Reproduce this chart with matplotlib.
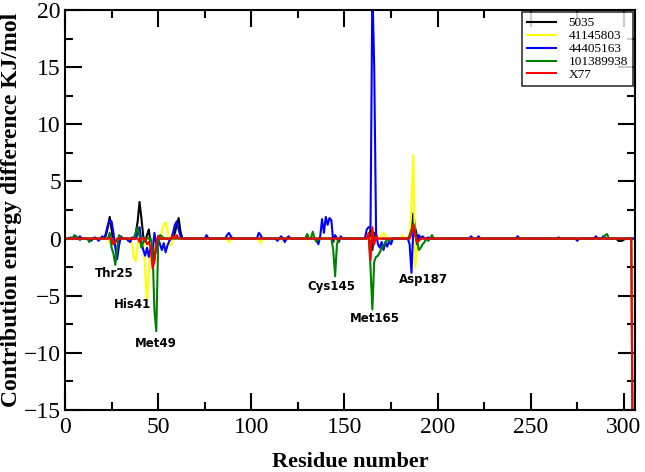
import numpy as np
import matplotlib
matplotlib.use("Agg")
import matplotlib.pyplot as plt
from matplotlib.ticker import MultipleLocator

n_res = 305
residues = np.arange(1, n_res + 1)

series_names = ["5035", "41145803", "44405163", "101389938", "X77"]
series_colors = ["black", "#ffff00", "#0000ff", "#008000", "#ff0000"]

# nonzero contributions (residue, value); all other residues ~0
black_pts = [(5, 0.1), (8, -0.1), (22, 0.3), (23, 1.0), (24, 1.9), (25, 0.8), (26, -0.5), (27, -0.3),
             (38, 0.5), (39, 1.5), (40, 3.2), (41, 1.8), (42, 0.2), (43, -0.3), (44, 0.3), (45, 0.8),
             (46, -0.5), (47, -1.2), (48, -1.8), (49, -0.6), (50, 0.2), (59, 0.5), (60, 1.2), (61, 1.8),
             (62, 0.6), (164, 0.8), (165, -1.0), (166, 0.5), (186, 0.8), (187, 2.2), (188, 0.9),
             (189, 0.2), (297, -0.2), (298, -0.2), (299, -0.2), (300, -0.1)]
yellow_pts = [(24, -0.3), (25, -0.5), (36, -0.5), (37, -1.6), (38, -2.0), (39, -0.5), (43, -2.5),
              (44, -5.6), (45, -3.0), (46, -0.5), (52, 0.6), (53, 1.2), (54, 1.4), (55, 0.8),
              (56, -0.5), (57, -0.6), (58, 0.2), (88, -0.3), (105, -0.4), (145, -0.3), (170, 0.3),
              (171, 0.5), (172, 0.3), (181, 0.3), (186, 3.0), (187, 7.3), (188, -2.5), (189, -0.8),
              (190, 0.2)]
blue_pts = [(3, 0.1), (8, 0.2), (14, -0.2), (16, 0.1), (18, -0.2), (20, 0.2), (22, 0.5), (23, 1.2),
            (24, 1.6), (25, 1.5), (26, 0.5), (27, -0.8), (28, -1.8), (29, -0.6), (30, 0.2),
            (34, -0.2), (35, -0.3), (36, 0.1), (39, 0.5), (40, 1.0), (41, -0.3), (42, -1.0),
            (43, -1.5), (44, -0.8), (45, -1.6), (46, -0.7), (47, -1.2), (48, 0.5), (49, -0.5),
            (51, -0.5), (52, -1.0), (53, -0.4), (54, -1.2), (55, -0.6), (56, -0.2), (58, 0.5),
            (59, 1.2), (60, 1.5), (61, 0.8), (62, 0.2), (76, 0.3), (87, 0.3), (88, 0.5), (89, 0.2),
            (104, 0.5), (105, 0.3), (114, -0.2), (116, 0.2), (118, -0.3), (120, 0.2), (136, -0.5),
            (137, 0.2), (138, 1.7), (139, 0.5), (140, 1.9), (141, 1.2), (142, 1.8), (143, 1.6),
            (144, -0.3), (145, 0.3), (147, -0.3), (148, 0.2), (162, 0.8), (163, 1.0), (164, 0.9),
            (165, 22.0), (166, 15.0), (167, 0.5), (168, -0.5), (169, -0.8), (170, -0.3),
            (171, -1.0), (172, -0.3), (173, -0.7), (174, -0.2), (175, -0.5), (185, -0.5),
            (186, -3.0), (187, 0.8), (188, 0.5), (189, -0.5), (190, 0.3), (192, 0.2), (195, 0.1),
            (218, 0.2), (222, 0.2), (243, 0.2), (265, 0.1), (275, -0.2), (285, 0.2), (289, 0.2)]
green_pts = [(5, 0.3), (6, 0.2), (13, -0.3), (24, 0.5), (25, -0.8), (26, -1.3), (27, -2.3),
             (28, -0.8), (29, 0.3), (38, 0.5), (39, 1.0), (40, 0.2), (41, -0.8), (42, -0.3),
             (47, -1.0), (48, -6.3), (49, -8.1), (50, -0.5), (51, 0.3), (52, 0.2), (130, 0.4),
             (133, 0.6), (135, -0.3), (144, -1.0), (145, -3.3), (146, -0.5), (163, 0.3),
             (164, -2.5), (165, -6.2), (166, -2.0), (167, -1.6), (168, -1.5), (169, -1.2),
             (170, -0.8), (171, -0.6), (172, -0.4), (174, -0.2), (185, 0.3), (186, 0.8),
             (187, 1.3), (188, 0.6), (189, -0.3), (190, -1.0), (191, -0.8), (192, -0.5),
             (193, -0.3), (195, -0.2), (197, 0.3), (290, 0.3), (291, 0.4), (305, -25.0)]
red_pts = [(26, -0.5), (27, -0.3), (40, -0.3), (44, -0.5), (45, -0.3), (46, -0.8), (47, -2.6),
           (48, -2.0), (49, -0.3), (50, 0.2), (58, 0.2), (60, 0.3), (163, 0.5), (164, -1.9),
           (165, 1.0), (166, -0.5), (167, 0.2), (186, 0.5), (187, 1.2), (188, 0.3), (189, -0.3),
           (190, -0.2), (305, -25.0)]

labels_text = ["Thr25", "His41", "Met49", "Cys145", "Met165", "Asp187"]
labels_x = [26.3, 36.3, 48.7, 143.1, 166.4, 192.3]
labels_y = [-3.1, -5.8, -9.2, -4.2, -7.0, -3.6]


def build(points):
    vals = np.zeros(n_res)
    for r, v in points:
        vals[r - 1] = v
    return vals


all_pts = [black_pts, yellow_pts, blue_pts, green_pts, red_pts]

fig = plt.figure(figsize=(6.45, 4.72), dpi=100)
ax = fig.add_axes([0.1008, 0.1314, 0.8837, 0.8474])

for pts, name, col in zip(all_pts, series_names, series_colors):
    ax.plot(residues, build(pts), color=col, lw=1.5, label=name)

for t, x, y in zip(labels_text, labels_x, labels_y):
    ax.text(x, y, t, ha="center", va="center", fontsize=8.5, fontweight="bold",
            family="DejaVu Sans")

ax.set_xlim(0, 306)
ax.set_ylim(-15, 20)
ax.xaxis.set_major_locator(MultipleLocator(50))
ax.xaxis.set_minor_locator(MultipleLocator(25))
ax.yaxis.set_major_locator(MultipleLocator(5))
ax.yaxis.set_minor_locator(MultipleLocator(2.5))
ax.tick_params(which="both", direction="in", top=True, right=True, width=1.5, color="black")
ax.tick_params(which="major", length=12, labelsize=17)
ax.tick_params(axis="x", which="major", pad=5)
ax.tick_params(axis="y", which="major", pad=3)
ax.tick_params(which="minor", length=6)
for lab in ax.get_xticklabels() + ax.get_yticklabels():
    lab.set_family("Liberation Serif")
for sp in ax.spines.values():
    sp.set_linewidth(1.5)

ax.set_xlabel("Residue number", fontsize=16, fontweight="bold", family="Liberation Serif",
              labelpad=10)
ax.set_ylabel("Contribution energy difference KJ/mol", fontsize=17, fontweight="bold",
              family="Liberation Serif")
ax.yaxis.set_label_coords(-0.076, 0.5)

leg = ax.legend(loc="upper right", frameon=True, fancybox=False,
                edgecolor="black", borderaxespad=0.15, handlelength=2.2,
                prop={"family": "Liberation Serif", "size": 9.5}, labelspacing=0.05,
                borderpad=0.4, handletextpad=0.9)
leg.get_frame().set_linewidth(1.2)

fig.savefig("out.png", dpi=100)
